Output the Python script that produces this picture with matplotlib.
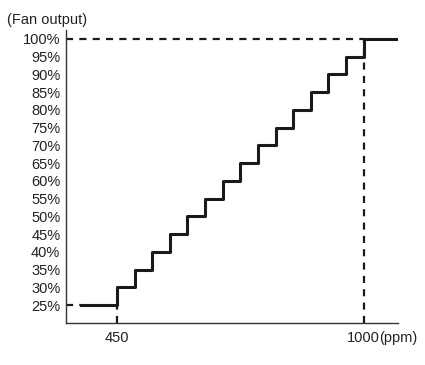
import numpy as np
import matplotlib.pyplot as plt

plt.rcParams['font.family'] = ['Liberation Sans', 'DejaVu Sans']

# fan output levels (%) and the CO2 levels (ppm) where each step starts
levels = [25, 30, 35, 40, 45, 50, 55, 60, 65, 70, 75, 80, 85, 90, 95, 100]
ppm_start = [370, 450, 489.3, 528.6, 567.9, 607.1, 646.4, 685.7, 725.0,
             764.3, 803.6, 842.9, 882.1, 921.4, 960.7, 1000]
ppm_end = 1076

y_ticks = [25, 30, 35, 40, 45, 50, 55, 60, 65, 70, 75, 80, 85, 90, 95, 100]
x_ticks = [450, 1000]

fig = plt.figure(figsize=(4.25, 3.65), dpi=100)
ax = fig.add_axes([0.155, 0.115, 0.781, 0.803])

xlo, xhi = 336, ppm_end
ylo, yhi = 20, 102.5
fs = 10.5

# guide lines
dash = dict(color='#1a1a1a', lw=1.6, ls=(0, (3.2, 2.8)), zorder=1)
ax.plot([xlo, 1000], [100, 100], **dash)
ax.plot([1000, 1000], [ylo, 100], **dash)
ax.plot([xlo, ppm_start[0]], [25, 25], **dash)
ax.plot([450, 450], [ylo, 25], **dash)

# step curve
xs = ppm_start + [ppm_end]
ys = levels + [levels[-1]]
ax.step(xs, ys, where='post', color='#1a1a1a', lw=2.2, zorder=2)

ax.set_xlim(xlo, xhi)
ax.set_ylim(ylo, yhi)
ax.set_yticks(y_ticks)
ax.set_yticklabels([f'{v}%' for v in y_ticks])
ax.set_xticks(x_ticks)
ax.set_xticklabels([str(v) for v in x_ticks])
ax.tick_params(length=0, labelsize=fs, colors='#222222', pad=4)
ax.tick_params(axis='x', pad=6)

for s in ['top', 'right']:
    ax.spines[s].set_visible(False)
for s in ['left', 'bottom']:
    ax.spines[s].set_color('#333333')
    ax.spines[s].set_linewidth(1.0)

ax.annotate('(ppm)', xy=(1000, ylo), xytext=(10.8, -6),
            textcoords='offset points', fontsize=fs, color='#222222',
            ha='left', va='top')
fig.text(0.016, 0.945, '(Fan output)', fontsize=fs, color='#222222',
         ha='left', va='center')

fig.savefig('out.png', dpi=100)
